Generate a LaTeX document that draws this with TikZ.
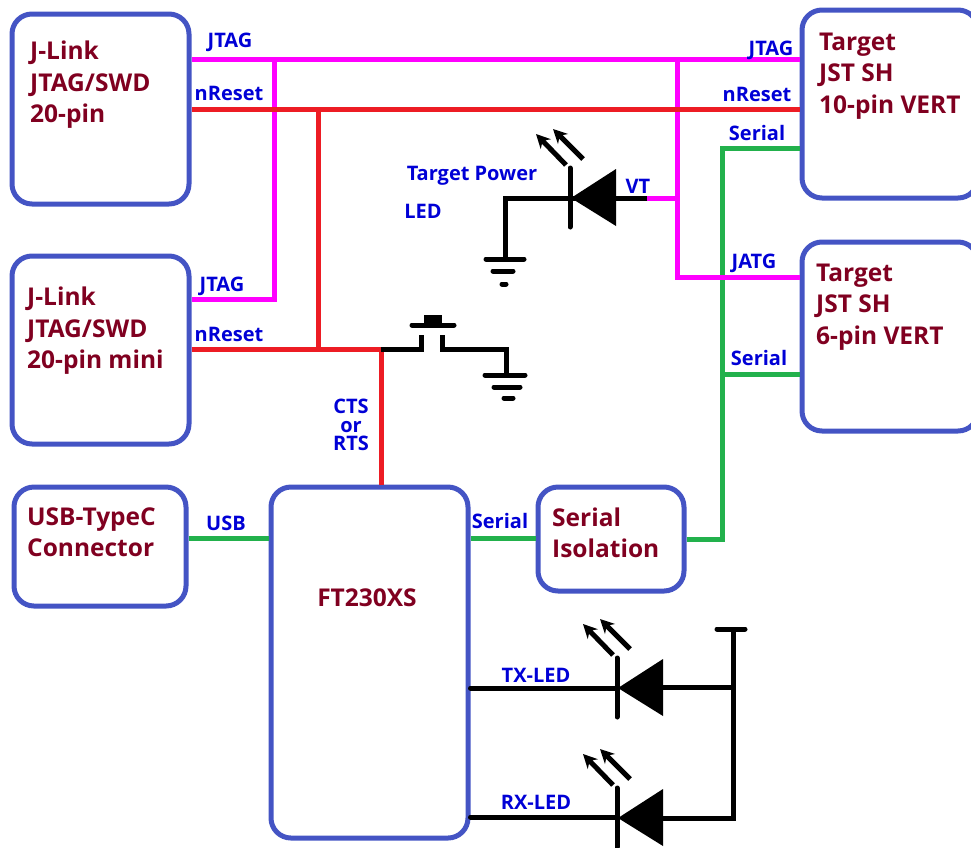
\documentclass[tikz,border=0pt]{standalone}
\usepackage{fontspec}
\setmainfont{Open Sans}
\usetikzlibrary{arrows.meta}
\definecolor{boxblue}{RGB}{68,84,196}
\definecolor{boxtext}{RGB}{128,0,32}
\definecolor{labelblue}{RGB}{0,0,214}
\definecolor{wiregreen}{RGB}{34,177,76}
\definecolor{wirered}{RGB}{237,28,36}
\definecolor{wirepink}{RGB}{255,0,255}
\tikzset{
    block/.style={draw=boxblue, line width=5pt, rounded corners=20pt, inner sep=0pt},
    blocktext/.style={anchor=west, align=left, inner sep=0pt, text=boxtext, font=\fontsize{24.5}{31.5}\selectfont\bfseries},
    wirelabel/.style={inner sep=0pt, align=center, text=labelblue, font=\fontsize{20}{18.5}\selectfont\bfseries},
    sigpink/.style={draw=wirepink, line width=5pt},
    sigred/.style={draw=wirered, line width=5pt},
    siggreen/.style={draw=wiregreen, line width=5pt},
    sigblack/.style={draw=black, line width=5pt}
}
\begin{document}
\begin{tikzpicture}[>={Stealth[length=14pt,width=14pt]}, x=1pt, y=-1pt]
\useasboundingbox (0,0) rectangle (971,847);

\node[block, minimum width=177, minimum height=190] (jlinka) at (100.5,109) {};
\node[block, minimum width=177, minimum height=188] (jlinkb) at (100.5,350) {};
\node[block, minimum width=172, minimum height=119] (usbc) at (100,546.5) {};
\node[block, minimum width=197, minimum height=351] (ftchip) at (369.5,662.5) {};
\node[block, minimum width=146, minimum height=104] (isolator) at (611,539) {};
\node[block, minimum width=176, minimum height=188] (targeta) at (890,104) {};
\node[block, minimum width=176, minimum height=189] (targetb) at (890,336.5) {};

\node[blocktext] (jlinkatext) at (30,85) {J-Link\\JTAG/SWD\\20-pin};
\node[blocktext] (jlinkbtext) at (27,331) {J-Link\\JTAG/SWD\\20-pin mini};
\node[blocktext] (usbctext) at (27,532) {USB-TypeC\\Connector};
\node[blocktext, anchor=center] (ftchiptext) at (367,598) {FT230XS};
\node[blocktext] (isolatortext) at (552,533) {Serial\\Isolation};
\node[blocktext] (targetatext) at (819,76) {Target\\JST SH\\10-pin VERT};
\node[blocktext] (targetbtext) at (816,307) {Target\\JST SH\\6-pin VERT};

% junctions
\coordinate (serialtop) at (722,148);
\coordinate (serialmid) at (722,374);
\coordinate (serialbot) at (722,539);
\coordinate (jtagleft) at (274,59);
\coordinate (jtagright) at (677,59);
\coordinate (jtagfoot) at (677,277);
\coordinate (jtagled) at (677,198);
\coordinate (resetleft) at (318,109);
\coordinate (resetfoot) at (318,349);
\coordinate (resetswitch) at (381,349);

\draw[siggreen](usbc.east |- 0,538)--(ftchip.west |- 0,538);
\draw[siggreen](ftchip.east |- 0,538)--(isolator.west |- 0,538);
\draw[siggreen](isolator.east |- serialbot)--(serialbot)--(serialtop)--(targeta.west |- serialtop);
\draw[siggreen](serialmid)--(targetb.west |- serialmid);

\draw[sigpink](jlinka.east |- jtagleft)--(targeta.west |- jtagleft);
\draw[sigpink](jtagleft)--(274,299)--(jlinkb.east |- 0,299);
\draw[sigpink](jtagright)--(jtagfoot)--(targetb.west |- jtagfoot);
\draw[sigpink](jtagled)--(647,198);

\draw[sigred](jlinka.east |- resetleft)--(targeta.west |- resetleft);
\draw[sigred](resetleft)--(resetfoot);
\draw[sigred](jlinkb.east |- resetfoot)--(resetswitch);
\draw[sigred](resetswitch)--(ftchip.north -| resetswitch);

% leds
\foreach \x/\y in {570/198,617/688,617/818}
{
    \fill(\x+1,\y)--(\x+46,\y-29)--(\x+46,\y+28)--cycle;
    \draw[sigblack, line cap=round](\x,\y-30)--(\x,\y+29);
    \draw[->, line width=5pt](\x-4,\y-33)--(\x-34,\y-64);
    \draw[->, line width=5pt](\x+13,\y-39)--(\x-17,\y-69);
}
\draw[sigblack](647,198)--(505,198)--(505,259);
\draw[sigblack, line cap=round](486,259)--(524,259);
\draw[sigblack, line cap=round](493,271)--(513,271);
\draw[sigblack, line cap=round](502,284)--(506,284);

\draw[sigblack, line cap=round](ftchip.east |- 0,688)--(617,688);
\draw[sigblack, line cap=round](ftchip.east |- 0,817)--(617,817);
\draw[sigblack](663,687)--(733,687);
\draw[sigblack](663,818)--(735.5,818);
\draw[sigblack](733,629)--(733,820);
\draw[sigblack, line cap=round](717,629)--(745,629);

% reset button
\draw[sigblack](resetswitch)--(421,349)--(421,335);
\draw[sigblack](442,335)--(442,349)--(506,349)--(506,375);
\draw[sigblack, line cap=round](412,325)--(454,325);
\fill(424,315) rectangle (442,325);
\draw[sigblack, line cap=round](485,375)--(525,375);
\draw[sigblack, line cap=round](494,387)--(520,387);
\draw[sigblack, line cap=round](504,398)--(513,398);

\node[wirelabel] (jtaga) at (230,42) {JTAG};
\node[wirelabel] (reseta) at (229,93) {nReset};
\node[wirelabel] (jtagb) at (222,286) {JTAG};
\node[wirelabel] (resetb) at (229,334) {nReset};
\node[wirelabel] (jtagc) at (771,50) {JTAG};
\node[wirelabel] (resetc) at (757,94) {nReset};
\node[wirelabel] (serialc) at (757,133) {Serial};
\node[wirelabel] (vtlabel) at (638,186) {VT};
\node[wirelabel] (jatglabel) at (754,263) {JATG};
\node[wirelabel] (seriald) at (759,358) {Serial};
\node[wirelabel] (powerlabel) at (472,176) {Target Power};
\node[wirelabel] (ledlabel) at (423,211) {LED};
\node[wirelabel] (ctslabel) at (351,425) {CTS\\or\\RTS};
\node[wirelabel] (usblabel) at (226,523) {USB};
\node[wirelabel] (seriale) at (500,521) {Serial};
\node[wirelabel] (txlabel) at (536,675) {TX-LED};
\node[wirelabel] (rxlabel) at (536,802) {RX-LED};
\end{tikzpicture}
\end{document}
